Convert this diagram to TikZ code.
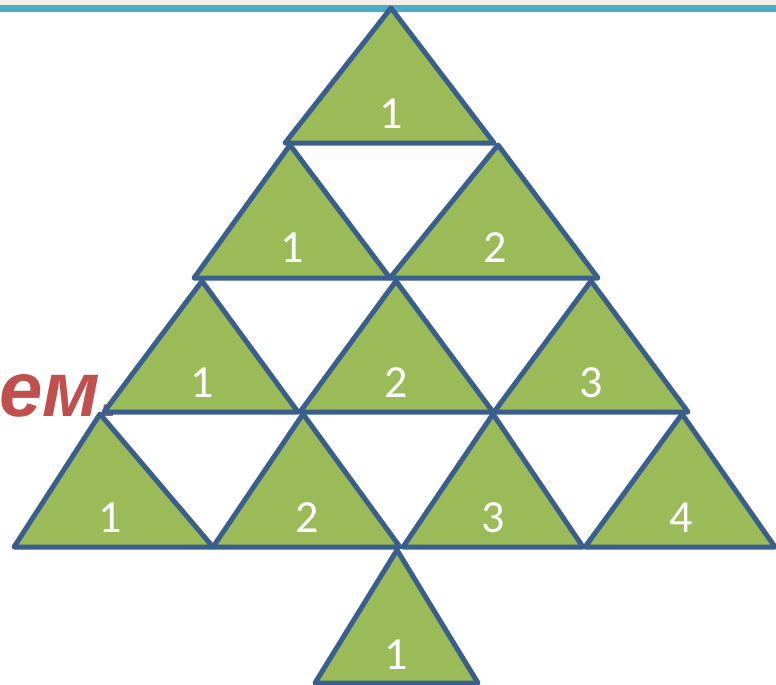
\documentclass[tikz,border=0pt]{standalone}
\usepackage{fontspec}
\setmainfont{Carlito}
\newfontfamily\redfont{Liberation Sans}
\usetikzlibrary{positioning}
\definecolor{treegreen}{HTML}{9BBB59}
\definecolor{treeblue}{HTML}{3A5F8C}
\definecolor{barteal}{HTML}{4BACC6}
\definecolor{barbeige}{HTML}{F2EFE8}
\definecolor{wordred}{HTML}{C0504D}

\begin{document}
\begin{tikzpicture}[x=1pt,y=-1pt,
  tri/.style={draw=treeblue,fill=treegreen,line width=5pt,line join=round},
  num/.style={text=white,inner sep=0pt,font=\fontsize{46}{50}\selectfont}]
  \useasboundingbox (0,0) rectangle (776,685);
  \fill[barbeige] (0,0) rectangle (776,5);
  \fill[barteal] (0,5) rectangle (776,12.5);
  \node[text=wordred,inner sep=0pt,anchor=base west,
        font=\redfont\bfseries\itshape\fontsize{78}{86}\selectfont] (word) at (-1,416) {ем.};
  % top
  \draw[tri] (391,8) -- (285,143) -- (494,143) -- cycle;
  \node[num] (a1) at (391,114) {1};
  % second row
  \draw[tri] (290,145) -- (194,278) -- (390,278) -- cycle;
  \node[num] (b1) at (292,248) {1};
  \draw[tri] (498,145) -- (390,278) -- (598,278) -- cycle;
  \node[num] (b2) at (495,248) {2};
  % third row
  \draw[tri] (202,281) -- (104,412) -- (298,412) -- cycle;
  \node[num] (c1) at (202,383) {1};
  \draw[tri] (396,281) -- (300,412) -- (493,412) -- cycle;
  \node[num] (c2) at (396,383) {2};
  \draw[tri] (591,281) -- (494,412) -- (688,412) -- cycle;
  \node[num] (c3) at (591,383) {3};
  % fourth row
  \draw[tri] (100,414) -- (14,547) -- (213,547) -- cycle;
  \node[num] (d1) at (110,518) {1};
  \draw[tri] (303,414) -- (213,547) -- (400,547) -- cycle;
  \node[num] (d2) at (307,518) {2};
  \draw[tri] (493,414) -- (403,547) -- (583,547) -- cycle;
  \node[num] (d3) at (493,518) {3};
  \draw[tri] (682,414) -- (585,547) -- (775,547) -- cycle;
  \node[num] (d4) at (681,518) {4};
  % trunk
  \draw[tri] (397,550) -- (315,683) -- (478,683) -- cycle;
  \node[num] (e1) at (396,655) {1};
\end{tikzpicture}
\end{document}
